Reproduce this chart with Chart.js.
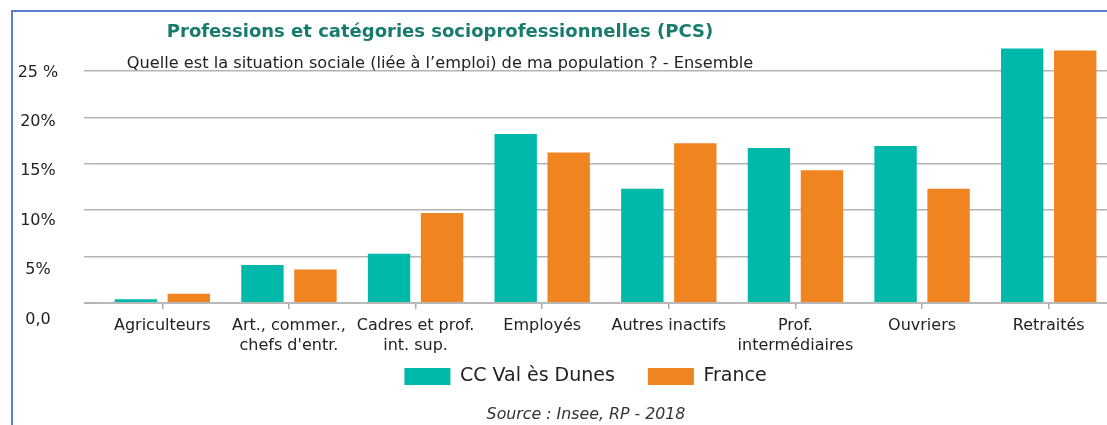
<!DOCTYPE html>
<html lang="fr">
<head>
<meta charset="utf-8">
<title>Professions et catégories socioprofessionnelles (PCS)</title>
<script src="https://cdn.jsdelivr.net/npm/chart.js@4.4.1/dist/chart.umd.min.js"></script>
<style>
  html, body { margin: 0; padding: 0; background: #fff; overflow: hidden; }
  body { width: 1107px; height: 425px; position: relative; font-family: 'DejaVu Sans', sans-serif; }
  #cadre { position: absolute; left: 11px; top: 10px; width: 1200px; height: 500px;
           border-top: 2px solid #5a7fd1; border-left: 2px solid #5a7fd1; }
  #graph { position: absolute; left: 0; top: 0; }
  .txt { position: absolute; white-space: nowrap; transform: translate(-50%, -50%); }
  #titre { left: 440px; top: 30px; font-size: 18px; font-weight: bold; color: #177b6e; }
  #soustitre { left: 440px; top: 62px; font-size: 16.2px; color: #222; }
  #source { left: 586px; top: 413px; font-size: 15.8px; font-style: italic; color: #333; }
</style>
</head>
<body>
<div id="cadre"></div>
<canvas id="graph" width="1120" height="425"></canvas>
<div class="txt" id="titre">Professions et catégories socioprofessionnelles (PCS)</div>
<div class="txt" id="soustitre">Quelle est la situation sociale (liée à l’emploi) de ma population ? - Ensemble</div>
<div class="txt" id="source">Source : Insee, RP - 2018</div>
<script>
// PCS categories (multi-line labels as arrays)
const categories = [
    'Agriculteurs',
    ['Art., commer.,', "chefs d'entr."],
    ['Cadres et prof.', 'int. sup.'],
    'Employés',
    'Autres inactifs',
    ['Prof.', 'intermédiaires'],
    'Ouvriers',
    'Retraités'
];
const seriesNames = ['CC Val ès Dunes', 'France'];
// shares in %
const valDunes  = [0.4, 4.1, 5.3, 18.2, 12.3, 16.7, 16.9, 27.4];
const valFrance = [1.0, 3.6, 9.7, 16.2, 17.2, 14.3, 12.3, 27.2];
const tickValues = [0, 5, 10, 15, 20, 25];
const tickLabels = ['0,0', '5%', '10%', '15%', '20%', '25 %'];

Chart.defaults.font.family = "'DejaVu Sans', sans-serif";

function setTicks(scale) {
    scale.ticks = tickValues.map(v => ({ value: v }));
}

// move the legend under the plot, centred like the original
const legendPlace = {
    id: 'legendPlace',
    afterLayout(chart) {
        const lg = chart.legend;
        const dx = 585.5 - (lg.left + lg.right) / 2;
        const dy = 334 - lg.top;
        lg.left += dx; lg.right += dx;
        lg.top += dy; lg.bottom += dy;
    }
};

const ctx = document.getElementById('graph').getContext('2d');
const chart = new Chart(ctx, {
    type: 'bar',
    data: {
        labels: categories,
        datasets: [{
            label: seriesNames[0],
            data: valDunes,
            backgroundColor: '#00b9aa',
            borderWidth: 0
        }, {
            label: seriesNames[1],
            data: valFrance,
            backgroundColor: '#f08420',
            borderWidth: 0
        }]
    },
    options: {
        responsive: false,
        animation: false,
        categoryPercentage: 0.837,
        barPercentage: 0.8,
        layout: { padding: { left: 18, right: 8, top: 45, bottom: 0 } },
        plugins: {
            legend: {
                position: 'bottom',
                labels: {
                    boxWidth: 46,
                    boxHeight: 17,
                    padding: 33,
                    color: '#222',
                    font: { size: 19 }
                }
            },
            tooltip: { enabled: false }
        },
        scales: {
            x: {
                grid: {
                    offset: false,
                    drawOnChartArea: false,
                    tickLength: 6,
                    color: '#aaa',
                    lineWidth: 1.5
                },
                border: { color: '#b8b8b8', width: 2 },
                ticks: {
                    autoSkip: false,
                    maxRotation: 0,
                    padding: 7,
                    color: '#222',
                    font: { size: 16, lineHeight: 1.25 }
                }
            },
            y: {
                min: 0,
                max: 27.78,
                weight: 0,
                afterBuildTicks: setTicks,
                ticks: { display: false },
                grid: {
                    color: '#b4b4b4',
                    lineWidth: c => (c.tick && c.tick.value === 0) ? 2 : 1.5,
                    tickLength: 15
                },
                border: { display: false }
            },
            yLabels: {
                position: 'left',
                min: 1.66,
                max: 27.78,
                weight: 1,
                afterBuildTicks: setTicks,
                afterFit: s => { s.width = 66; },
                grid: { display: false, drawTicks: false },
                border: { display: false },
                ticks: {
                    autoSkip: false,
                    crossAlign: 'center',
                    padding: 25.7,
                    color: '#222',
                    font: { size: 16 },
                    callback: (v, i) => tickLabels[i]
                }
            }
        }
    },
    plugins: [legendPlace]
});
</script>
</body>
</html>
